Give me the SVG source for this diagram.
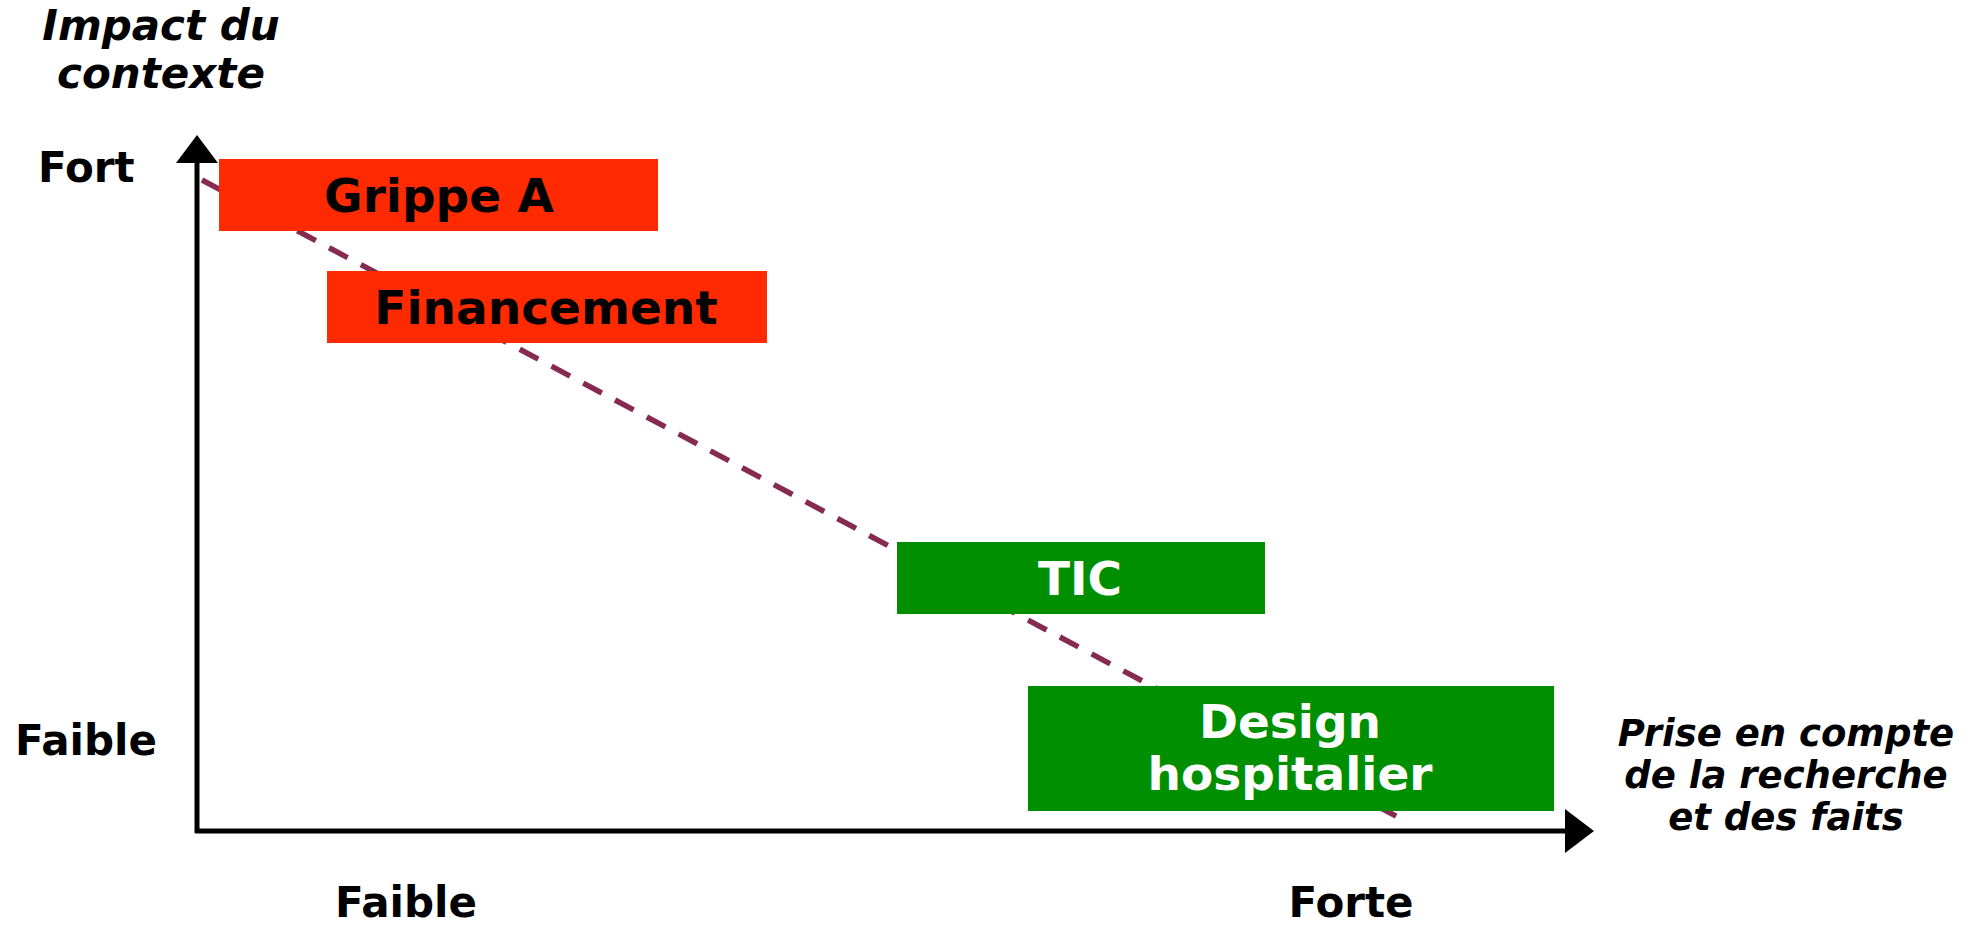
<svg xmlns="http://www.w3.org/2000/svg" width="1977" height="928" viewBox="0 0 1977 928">
<style>
text{font-family:"DejaVu Sans","Verdana",sans-serif;font-weight:bold}
.ax{font-size:42px;fill:#000}
.axi{font-size:42px;font-style:italic;fill:#000}
.axr{font-size:37px;font-style:italic;fill:#000}
.lb{font-size:47px;text-anchor:middle}
.red{fill:#ff2a00}
.grn{fill:#008f00}
</style>
<rect width="1977" height="928" fill="#fff"/>
<g id="connectors">
<line x1="202" y1="180" x2="1409" y2="823" stroke="#862a50" stroke-width="5.5" stroke-dasharray="21,15"/>
</g>
<g id="axes">
<line x1="197" y1="160" x2="197" y2="833" stroke="#000" stroke-width="5"/>
<line x1="195" y1="831" x2="1570" y2="831" stroke="#000" stroke-width="5"/>
<polygon points="197,135 176,163 218,163" fill="#000"/>
<polygon points="1594,831 1565,809 1565,853" fill="#000"/>
</g>
<g id="node-grippe">
<rect class="red" x="219" y="159" width="439" height="72"/>
<text class="lb" x="439" y="212" fill="#000">Grippe A</text>
</g>
<g id="node-financement">
<rect class="red" x="327" y="271" width="440" height="72"/>
<text class="lb" x="546" y="324" fill="#000">Financement</text>
</g>
<g id="node-tic">
<rect class="grn" x="897" y="542" width="368" height="72"/>
<text class="lb" x="1080" y="595" fill="#fff">TIC</text>
</g>
<g id="node-design">
<rect class="grn" x="1028" y="686" width="526" height="125"/>
<text class="lb" x="1290" y="738" fill="#fff">Design</text>
<text class="lb" x="1290" y="790" fill="#fff">hospitalier</text>
</g>
<g id="labels">
<text class="axi" x="161" y="40" text-anchor="middle">Impact du</text>
<text class="axi" x="161" y="88" text-anchor="middle">contexte</text>
<text class="ax" x="38" y="182">Fort</text>
<text class="ax" x="15" y="755">Faible</text>
<text class="ax" x="406" y="917" text-anchor="middle">Faible</text>
<text class="ax" x="1351" y="917" text-anchor="middle">Forte</text>
<text class="axr" x="1786" y="746" text-anchor="middle">Prise en compte</text>
<text class="axr" x="1786" y="788" text-anchor="middle">de la recherche</text>
<text class="axr" x="1786" y="830" text-anchor="middle">et des faits</text>
</g>
</svg>
